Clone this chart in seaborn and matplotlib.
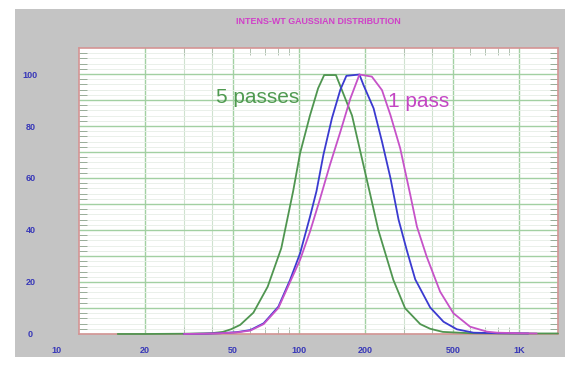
import matplotlib
matplotlib.use('Agg')
import matplotlib.pyplot as plt
from matplotlib.patches import Rectangle
from matplotlib.ticker import NullFormatter
import seaborn as sns
import pandas as pd

# particle size (nm) vs intensity-weighted distribution (%)
size_5pass = [15, 20, 30, 40, 45, 49, 54, 62, 72, 83, 94, 101, 112, 122, 130, 147,
              174, 196, 210, 229, 268, 303, 355, 394, 450, 600, 900, 1500]
int_5pass = [0, 0, 0.1, 0.3, 0.8, 1.8, 3.5, 8.2, 18.2, 33, 55, 69.5, 84, 94.5, 99.6, 99.6,
             84, 65, 54, 40, 20.8, 9.9, 3.8, 2.0, 0.8, 0.3, 0.2, 0.2]

size_mid = [30, 37, 44, 52, 60, 69, 80.5, 91, 101, 112, 120, 129, 141, 154, 164, 188,
            196, 218, 238, 260, 283, 309, 337, 394, 453, 521, 620, 800, 1100]
int_mid = [0, 0.1, 0.3, 0.7, 1.5, 4.1, 10.5, 20.8, 31, 45, 55, 69, 83, 94, 99.3, 99.8,
           95.8, 86.8, 74, 60, 44, 32, 21, 10.2, 4.7, 1.8, 0.5, 0.3, 0.2]

size_1pass = [30, 37, 44, 52, 60, 69, 80.5, 91, 101, 112, 124, 138, 154, 171, 188, 214,
              238, 260, 288, 320, 343, 380, 437, 502, 598, 713, 793, 1000, 1200]
int_1pass = [0, 0.1, 0.3, 0.6, 1.3, 3.8, 10, 20, 28.5, 39.3, 51.5, 65, 77.8, 90.6, 99.8, 99,
             93.8, 84.2, 71.4, 53.5, 41.3, 29.7, 16.3, 8, 2.8, 0.9, 0.5, 0.3, 0.2]

runs = ['5 passes', 'mid', '1 pass']
run_colors = {'5 passes': '#4f9550', 'mid': '#3a3ad0', '1 pass': '#c652c8'}

x_major = [20, 50, 100, 200, 500, 1000]
x_major_labels = ['20', '50', '100', '200', '500', '1K']
x_minor = [30, 40, 60, 70, 80, 90, 300, 400, 600, 700, 800, 900]
x_faint = [30, 40, 300, 400]
y_major = list(range(0, 101, 10))
y_major_labels = [str(v) if v % 20 == 0 else '' for v in y_major]
y_minor = [v for v in range(2, 110, 2) if v % 10 != 0]

df = pd.concat([
    pd.DataFrame({'size': size_5pass, 'intensity': int_5pass, 'run': '5 passes'}),
    pd.DataFrame({'size': size_mid, 'intensity': int_mid, 'run': 'mid'}),
    pd.DataFrame({'size': size_1pass, 'intensity': int_1pass, 'run': '1 pass'}),
], ignore_index=True)

sns.set_theme(style='white')
plt.rcParams['font.family'] = ['Liberation Sans', 'DejaVu Sans']
narrow = ['Liberation Sans Narrow', 'Liberation Sans', 'DejaVu Sans']

fig = plt.figure(figsize=(5.79, 3.69), dpi=100)
# grey instrument panel behind the plot
fig.patches.append(Rectangle((0.026, 0.033), 0.95, 0.943, transform=fig.transFigure,
                             facecolor='#c4c4c4', edgecolor='none', zorder=-5))
ax = fig.add_axes([0.1364, 0.0949, 0.8273, 0.775])
ax.set_zorder(2)
ax.set_facecolor('white')
ax.set_xscale('log')

sns.lineplot(data=df, x='size', y='intensity', hue='run', hue_order=runs,
             palette=run_colors, sort=False, estimator=None, lw=1.3,
             legend=False, ax=ax)
# curves sit on top of the frame, like the instrument screen
for ln in ax.lines:
    ln.set_zorder(3)
    ln.set_clip_on(False)

ax.set_xlim(10, 1500)
ax.set_ylim(0, 110)
ax.set_xlabel('')
ax.set_ylabel('')

# grid
ax.set_axisbelow(True)
ax.set_xticks(x_major, x_major_labels)
ax.set_xticks(x_minor, minor=True)
ax.xaxis.set_minor_formatter(NullFormatter())
ax.set_yticks(y_major, y_major_labels)
ax.set_yticks(y_minor, minor=True)
ax.grid(True, which='major', color='#a2d0a2', lw=1.0)
ax.grid(True, which='minor', axis='y', color='#e6eee6', lw=0.6)
for v in x_faint:
    ax.axvline(v, color='#cfe2cf', lw=0.8, zorder=0.5)

tick_font = dict(family=narrow, weight='bold', size=6.5)
ax.tick_params(axis='x', which='major', length=0, pad=9, labelcolor='#3838b8')
ax.tick_params(axis='x', which='minor', direction='in', length=5,
               top=True, bottom=True, color='#b0c0b0', width=0.7)
ax.tick_params(axis='y', which='major', length=0, pad=35, labelcolor='#3838b8')
ax.tick_params(axis='y', which='minor', direction='in', length=6,
               left=True, right=True, color='#98ac98', width=0.7)
for lab in ax.get_xticklabels() + ax.get_yticklabels():
    lab.set_fontfamily(narrow)
    lab.set_fontweight('bold')
    lab.set_fontsize(6.5)
for lab in ax.get_yticklabels():
    lab.set_horizontalalignment('center')

ax.annotate('10', xy=(-0.046, 0), xycoords='axes fraction', xytext=(0, -9),
            textcoords='offset points', ha='center', va='top',
            color='#3838b8', **tick_font)

for side in ax.spines.values():
    side.set_color('#d49494')
    side.set_linewidth(1.2)

ax.text(42, 89, '5 passes', color='#4f9a50', fontsize=15)
ax.text(254, 87.3, '1 pass', color='#c445c4', fontsize=15)

fig.text(318 / 579, 1 - 22 / 369, 'INTENS-WT GAUSSIAN DISTRIBUTION', ha='center',
         va='center', color='#d040c8', fontweight='bold', fontsize=6.4,
         family=narrow)

fig.savefig('out.png', dpi=100, facecolor='white')
